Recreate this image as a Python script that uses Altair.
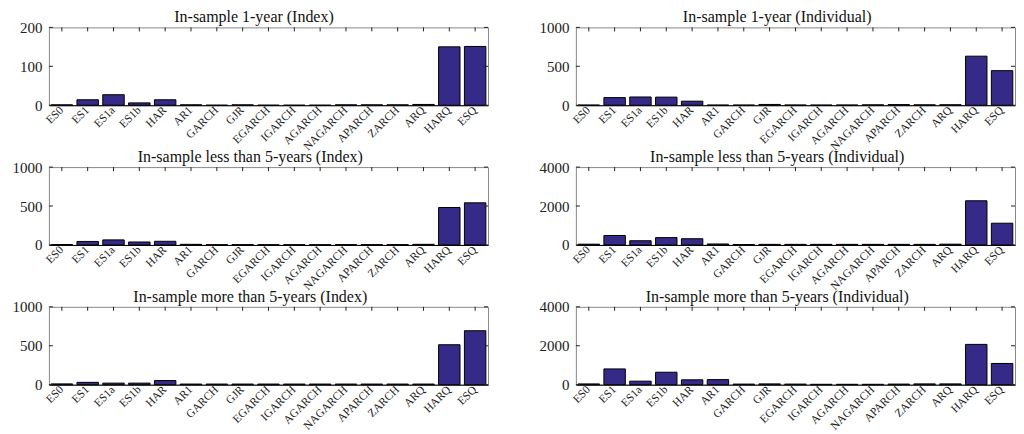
import altair as alt
import pandas as pd

cats = ["ES0", "ES1", "ES1a", "ES1b", "HAR", "AR1", "GARCH", "GJR", "EGARCH",
        "IGARCH", "AGARCH", "NAGARCH", "APARCH", "ZARCH", "ARQ", "HARQ", "ESQ"]

idx_1y = [1, 14, 27, 6, 14, 1, 0, 1, 0, 0, 0, 1, 1, 1, 2, 150, 151]
ind_1y = [2, 98, 106, 104, 52, 2, 2, 10, 3, 2, 3, 5, 8, 5, 6, 630, 444]
idx_lt5 = [5, 45, 65, 38, 47, 8, 3, 4, 3, 3, 3, 4, 4, 4, 8, 481, 541]
ind_lt5 = [40, 486, 216, 378, 320, 50, 20, 30, 30, 30, 30, 30, 30, 30, 40, 2270, 1117]
idx_gt5 = [10, 30, 20, 20, 53, 8, 8, 8, 8, 8, 8, 8, 8, 8, 8, 513, 693]
ind_gt5 = [40, 810, 180, 640, 250, 260, 30, 40, 30, 20, 20, 20, 30, 40, 40, 2070, 1090]

ticks_200 = [0, 100, 200]
ticks_1000 = [0, 500, 1000]
ticks_4000 = [0, 2000, 4000]

titles = [
    "In-sample 1-year (Index)", "In-sample 1-year (Individual)",
    "In-sample less than 5-years (Index)", "In-sample less than 5-years (Individual)",
    "In-sample more than 5-years (Index)", "In-sample more than 5-years (Individual)",
]

FONT = "Liberation Serif"
BAR = "#352a87"
H = 78


def panel(title, values, ticks, w):
    df = pd.DataFrame({"model": cats, "value": values})
    tdf = pd.DataFrame({"t": ticks})
    xscale = alt.Scale(paddingInner=0.17, paddingOuter=0.085)
    yscale = alt.Scale(domain=[0, ticks[-1]], nice=False)
    xaxis = alt.Axis(title=None, labelAngle=315, labelAlign="right",
                     labelBaseline="middle", ticks=False, domain=True,
                     domainColor="black", labelPadding=3, labelFont=FONT,
                     labelFontSize=11.5, labelColor="#222")
    yaxis = alt.Axis(values=ticks, format="d", title=None, ticks=False, domain=False,
                     grid=False, labelPadding=7, labelFont=FONT,
                     labelFontSize=15, labelColor="#222")
    bars = alt.Chart(df).mark_bar(color=BAR, stroke="black", strokeWidth=1).encode(
        x=alt.X("model:N", sort=cats, scale=xscale, axis=xaxis),
        y=alt.Y("value:Q", scale=yscale, axis=yaxis),
    )
    top_ticks = alt.Chart(df).mark_rule(color="#222").encode(
        x=alt.X("model:N", sort=cats, scale=xscale, axis=xaxis),
        y=alt.value(0), y2=alt.value(4))
    left_ticks = alt.Chart(tdf).mark_rule(color="#222").encode(
        y=alt.Y("t:Q", scale=yscale, axis=yaxis), x=alt.value(0), x2=alt.value(4))
    right_ticks = alt.Chart(tdf).mark_rule(color="#222").encode(
        y=alt.Y("t:Q", scale=yscale, axis=yaxis), x=alt.value(w - 4), x2=alt.value(w))
    return alt.layer(bars, top_ticks, left_ticks, right_ticks).properties(
        width=w, height=H,
        title=alt.TitleParams(title, font=FONT, fontSize=16, fontWeight="normal",
                              color="#111", frame="bounds", anchor="middle", offset=-5),
    )


WL = 440
WR = 440
panels = [
    panel(titles[0], idx_1y, ticks_200, WL),
    panel(titles[1], ind_1y, ticks_1000, WR),
    panel(titles[2], idx_lt5, ticks_1000, WL),
    panel(titles[3], ind_lt5, ticks_4000, WR),
    panel(titles[4], idx_gt5, ticks_1000, WL),
    panel(titles[5], ind_gt5, ticks_4000, WR),
]

chart = alt.concat(*panels, columns=2, spacing={"row": 62, "column": 88}).properties(
    bounds="flush", padding={"top": 0, "left": 3, "right": 0, "bottom": 0}
).configure_view(stroke="#888", strokeWidth=1)

chart.save("out.html", embed_options={"renderer": "svg", "actions": False})
